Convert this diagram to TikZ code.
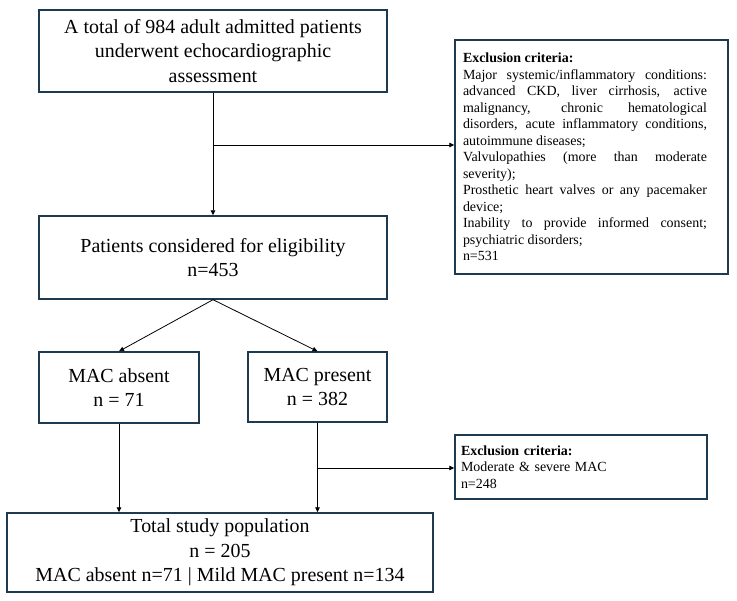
\documentclass[tikz,border=0pt]{standalone}
\usepackage{fontspec}
\setmainfont{Liberation Serif}
\usetikzlibrary{arrows.meta}
\definecolor{boxline}{HTML}{1E3A50}

\begin{document}
\begin{tikzpicture}[
  x=1bp, y=-1bp,
  box/.style={draw=boxline, line width=1.4bp, align=center, inner sep=0pt,
    font=\fontsize{20}{24.5}\selectfont},
  exbox/.style={draw=boxline, line width=1.4bp, inner sep=0pt,
    font=\fontsize{14}{16.6}\selectfont},
  arr/.style={-{Triangle[length=5bp,width=4.5bp]}, line width=0.8bp},
]
\useasboundingbox (0,0) rectangle (737,601);

% ---- main column ----
\node[box, minimum width=348bp, minimum height=82bp] (total984) at (213,51)
  {A total of 984 adult admitted patients\\ underwent echocardiographic\\ assessment};
\node[box, minimum width=348bp, minimum height=83bp] (elig) at (213,257.5)
  {Patients considered for eligibility\\ n=453};
\node[box, minimum width=160bp, minimum height=71bp] (absent) at (119,387.5)
  {MAC absent\\ n = 71};
\node[box, minimum width=139bp, minimum height=70bp] (present) at (317.5,387)
  {MAC present\\ n = 382};
\node[box, minimum width=426bp, minimum height=79bp] (study) at (220,552.5)
  {Total study population\\ n = 205\\ MAC absent n=71 | Mild MAC present n=134};

% ---- exclusion boxes ----
\node[exbox, minimum width=273bp, minimum height=234bp, text width=257bp,
  inner xsep=8bp, align=left] (excl1) at (591.5,157)
  {\parbox{244bp}{\rightskip=0pt\spaceskip=0pt\xspaceskip=0pt
   \parfillskip=0pt plus 1fil\tolerance=10000\hyphenpenalty=10000
   \textbf{Exclusion criteria:}\newline
   Major systemic/inflammatory conditions:\linebreak
   advanced CKD, liver cirrhosis, active\linebreak
   malignancy, chronic hematological\linebreak
   disorders, acute inflammatory conditions,\linebreak
   autoimmune diseases;\newline
   Valvulopathies (more than moderate\linebreak
   severity);\newline
   Prosthetic heart valves or any pacemaker\linebreak
   device;\newline
   Inability to provide informed consent;\linebreak
   psychiatric disorders;\newline
   n=531}};
\node[exbox, minimum width=252bp, minimum height=64bp, text width=240bp,
  inner xsep=6bp, align=left] (excl2) at (581,467)
  {\textbf{Exclusion criteria:}\\ Moderate \& severe MAC\\ n=248};

% ---- connectors ----
\coordinate (b1) at (213,145);
\coordinate (b2) at (317.5,468);
\draw[arr] (total984) -- (elig);
\draw[arr] (b1) -- (b1 -| excl1.west);
\draw[arr] (elig.south) -- (absent.north);
\draw[arr] (elig.south) -- (present.north);
\draw[arr] (absent) -- (absent |- study.north);
\draw[arr] (present) -- (present |- study.north);
\draw[arr] (b2) -- (b2 -| excl2.west);
\end{tikzpicture}
\end{document}
